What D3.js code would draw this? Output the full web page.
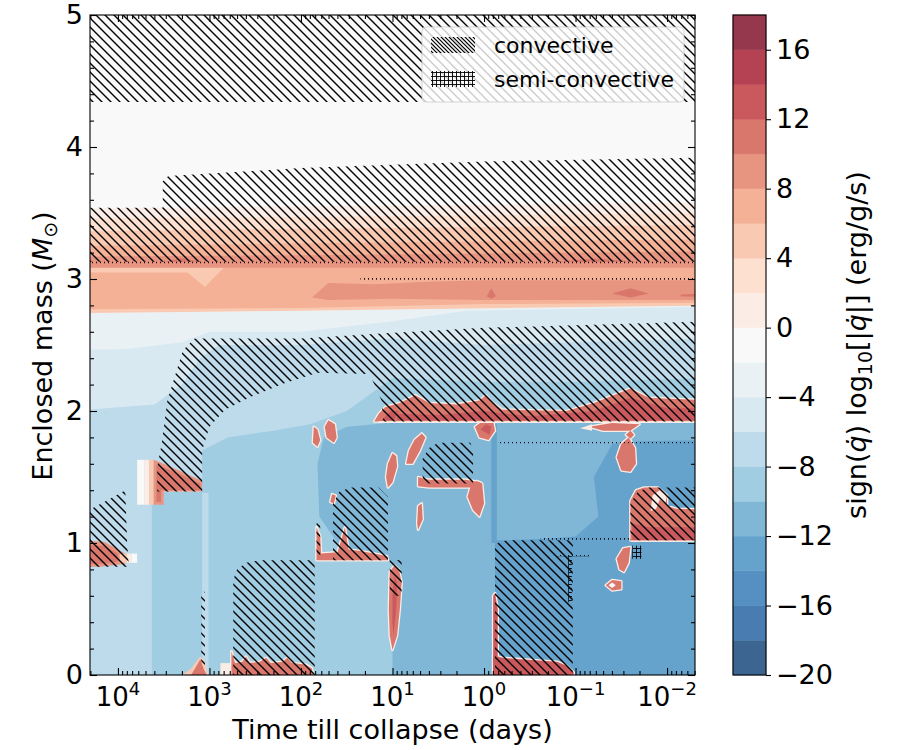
<!DOCTYPE html>
<html>
<head>
<meta charset="utf-8">
<script src="https://cdn.jsdelivr.net/npm/d3@7"></script>
<style>
  body { margin: 0; background: #fff; }
  text { font-family: "DejaVu Sans", sans-serif; fill: #000; }
</style>
</head>
<body>
<svg id="chart" width="900" height="750"></svg>
<script>
// contour edges of sign(q) log10|q|
const levels = d3.range(-20, 20, 2);
const massTicks = [0, 1, 2, 3, 4, 5];
const timeTicks = [1e4, 1e3, 1e2, 1e1, 1, 1e-1, 1e-2];
const timeTickExp = ["4", "3", "2", "1", "0", "\u22121", "\u22122"];
const cbarTicks = [-20, -16, -12, -8, -4, 0, 4, 8, 12, 16];

// left / right ends beyond the axis range, in log10(days)
const L = 4.5, R = -2.5;

// [lower level edge, outline as [log10(days), mass]]
const backgroundBands = [
  [-2, [[L, 0], [L, 5.1], [R, 5.1], [R, 0]]],
  [-4, [[L, 0], [L, 2.74], [2.0, 2.76], [R, 2.80], [R, 0]]],
  [-6, [[L, 0], [L, 2.46], [3.9, 2.47], [3.3, 2.52], [3.0, 2.6], [2.0, 2.6], [1.0, 2.68], [0.2, 2.76], [R, 2.79], [R, 0]]],
  [-8, [[L, 0], [L, 2.0], [3.6, 2.05], [3.3, 2.2], [3.1, 2.4], [2.9, 2.5], [2.0, 2.5], [1.0, 2.55], [0.0, 2.5], [-1.0, 2.52], [R, 2.55], [R, 0]]],
  [-10, [[3.63, 0], [3.63, 1.3], [3.5, 1.3], [3.5, 1.39], [3.08, 1.39], [3.08, 1.7], [2.8, 1.8], [2.3, 1.85], [1.9, 1.9], [1.5, 2.0], [1.2, 2.15], [1.0, 2.25], [0.0, 2.22], [-1.0, 2.22], [R, 2.25], [R, 0]]],
  [-8, [[3.08, 0], [3.08, 1.38], [3.01, 1.38], [3.01, 0]]],
  [-12, [[1.0, 0], [1.0, 0.85], [1.3, 0.9], [1.6, 1.0], [1.8, 1.2], [1.82, 1.6], [1.75, 1.8], [1.5, 1.88], [1.2, 1.9], [0.9, 1.92], [R, 1.92], [R, 0]]],
  [-14, [[-0.12, 0], [-0.12, 1.02], [-0.6, 1.03], [-1.0, 1.05], [-1.25, 1.2], [-1.2, 1.5], [-1.4, 1.75], [-1.7, 1.77], [R, 1.78], [R, 0]]],
  [-14, [[-0.08, 1.0], [-0.08, 1.9], [-0.14, 1.9], [-0.14, 1.0]]],
  // shell burning layer below the envelope
  [4, [[L, 3.11], [R, 3.11], [R, 2.80], [2.0, 2.76], [L, 2.74]]],
  [6, [[L, 3.10], [R, 3.10], [R, 2.82], [0.0, 2.81], [2.0, 2.78], [L, 2.77]]],
  [4, [[L, 3.095], [2.83, 3.095], [3.05, 2.94], [3.24, 3.05], [L, 3.05]]],
  [8, [[1.88, 2.86], [1.7, 2.97], [1.2, 2.96], [0.6, 2.98], [0.0, 2.99], [-1.0, 2.99], [R, 2.99], [R, 2.84], [0.0, 2.84], [1.0, 2.85], [1.7, 2.84]]],
  [10, [[-1.4, 2.89], [-1.6, 2.93], [-1.8, 2.89], [-1.6, 2.86]]],
  [10, [[-0.03, 2.87], [-0.08, 2.93], [-0.13, 2.87], [-0.08, 2.85]]],
  [10, [[-2.15, 2.88], [R, 2.9], [R, 2.86], [-2.15, 2.87]]],
  // convective envelope
  [0, [[L, 3.53], [3.51, 3.54], [2.0, 3.55], [R, 3.58], [R, 3.1], [L, 3.1]]],
  [2, [[L, 3.46], [2.0, 3.47], [R, 3.5], [R, 3.1], [L, 3.1]]],
  [4, [[L, 3.36], [2.0, 3.38], [R, 3.41], [R, 3.1], [L, 3.1]]],
  [6, [[L, 3.25], [2.0, 3.27], [R, 3.3], [R, 3.1], [L, 3.1]]],
  [8, [[L, 3.17], [2.0, 3.18], [R, 3.21], [R, 3.085], [L, 3.085]]],
  [10, [[3.5, 3.13], [3.3, 3.16], [3.1, 3.13]]],
  [10, [[-0.8, 3.13], [-1.2, 3.155], [-1.7, 3.13]]]
];

// burning episodes: [lower level edge, outline]
const burningPatches = [
  [8, [[L, 0.82], [L, 1.02], [4.15, 1.01], [4.0, 0.95], [3.92, 0.92], [3.92, 0.84], [4.2, 0.82]]],
  [10, [[L, 0.84], [L, 0.99], [4.15, 0.98], [4.0, 0.92], [4.0, 0.86], [4.2, 0.84]]],
  [4, [[3.98, 0.85], [3.98, 0.92], [3.9, 0.92], [3.9, 0.85]]],
  [0, [[3.9, 0.85], [3.9, 0.92], [3.85, 0.92], [3.85, 0.85]]],
  [-2, [[3.85, 0.85], [3.85, 0.92], [3.79, 0.92], [3.79, 0.85]]],
  [-2, [[3.79, 1.29], [3.79, 1.63], [3.71, 1.63], [3.71, 1.29]]],
  [0, [[3.71, 1.29], [3.71, 1.63], [3.66, 1.63], [3.66, 1.29]]],
  [4, [[3.66, 1.29], [3.66, 1.63], [3.61, 1.63], [3.61, 1.29]]],
  [8, [[3.61, 1.29], [3.61, 1.63], [3.5, 1.6], [3.3, 1.54], [3.08, 1.47], [3.08, 1.39], [3.5, 1.39], [3.5, 1.29]]],
  [10, [[3.58, 1.31], [3.58, 1.59], [3.35, 1.53], [3.1, 1.45], [3.1, 1.4], [3.53, 1.4], [3.53, 1.31]]],
  [4, [[3.3, 0], [3.2, 0.05], [3.1, 0.14], [3.05, 0.1], [3.02, 0]]],
  [10, [[3.2, 0], [3.1, 0.12], [3.06, 0.04], [3.03, 0]]],
  [0, [[2.88, 0], [2.88, 0.09], [2.76, 0.09], [2.76, 0]]],
  [10, [[2.76, 0], [2.76, 0.18], [2.72, 0.09], [2.64, 0.1], [2.6, 0.14], [2.56, 0.09], [2.45, 0.1], [2.38, 0.13], [2.33, 0.09], [2.2, 0.1], [2.15, 0.13], [2.1, 0.09], [1.95, 0.08], [1.88, 0.05], [1.87, 0]]],
  [10, [[1.83, 0.87], [1.83, 1.12], [1.79, 1.05], [1.78, 0.92], [1.6, 0.93], [1.52, 1.12], [1.48, 0.95], [1.35, 0.94], [1.2, 0.92], [1.06, 0.9], [1.05, 0.87]]],
  [10, [[1.86, 1.88], [1.82, 1.86], [1.79, 1.78], [1.82, 1.73], [1.87, 1.76]]],
  [10, [[1.7, 1.93], [1.63, 1.9], [1.61, 1.8], [1.64, 1.76], [1.72, 1.8], [1.74, 1.88]]],
  [10, [[1.64, 1.3], [1.62, 1.36], [1.66, 1.37], [1.68, 1.31]]],
  [10, [[1.05, 1.42], [1.0, 1.46], [0.95, 1.58], [0.96, 1.66], [1.0, 1.68], [1.05, 1.6], [1.07, 1.5]]],
  [10, [[1.0, 0.19], [0.95, 0.3], [0.92, 0.5], [0.9, 0.7], [0.93, 0.8], [0.98, 0.83], [1.03, 0.78], [1.04, 0.5], [1.03, 0.3]]],
  [12, [[0.99, 0.3], [0.96, 0.5], [0.95, 0.7], [0.98, 0.75], [1.0, 0.6], [1.0, 0.4]]],
  [10, [[0.85, 1.6], [0.82, 1.7], [0.76, 1.78], [0.68, 1.83], [0.64, 1.8], [0.7, 1.7], [0.78, 1.6]]],
  [10, [[0.72, 1.1], [0.67, 1.18], [0.68, 1.3], [0.72, 1.28], [0.73, 1.15]]],
  [10, [[0.72, 1.43], [0.72, 1.5], [0.6, 1.48], [0.2, 1.48], [0.04, 1.46], [0.04, 1.42], [0.6, 1.42]]],
  [10, [[0.15, 1.42], [0.08, 1.47], [0.02, 1.45], [0.0, 1.3], [0.05, 1.2], [0.12, 1.25], [0.18, 1.35]]],
  [10, [[0.1, 1.88], [0.02, 1.92], [-0.1, 1.92], [-0.12, 1.85], [-0.05, 1.78], [0.05, 1.8]]],
  [12, [[0.04, 1.86], [-0.02, 1.9], [-0.08, 1.88], [-0.06, 1.82]]],
  // layer under the outer convective shell
  [10, [[1.2, 1.92], [1.15, 1.98], [1.08, 2.03], [0.92, 2.06], [0.75, 2.12], [0.6, 2.06], [0.3, 2.05], [0.05, 2.08], [-0.02, 2.12], [-0.08, 2.07], [-0.2, 2.01], [-0.9, 2.0], [-1.2, 2.06], [-1.6, 2.17], [-1.8, 2.1], [-2.1, 2.09], [R, 2.08], [R, 1.92]]],
  [12, [[0.95, 1.93], [0.95, 1.98], [0.5, 1.97], [0.0, 2.0], [-0.5, 1.96], [-1.2, 2.0], [-1.6, 2.1], [-2.0, 2.02], [R, 2.02], [R, 1.93]]],
  [12, [[1.12, 1.93], [1.02, 2.0], [0.93, 2.0], [0.98, 1.93]]],
  [0, [[1.15, 1.91], [R, 1.91], [R, 1.922], [1.15, 1.922]]],
  [10, [[-1.15, 1.88], [-1.4, 1.91], [-1.7, 1.9], [-1.6, 1.85], [-1.3, 1.85]]],
  [0, [[-1.05, 1.87], [-1.18, 1.9], [-1.18, 1.85]]],
  [10, [[-1.5, 1.55], [-1.45, 1.65], [-1.5, 1.75], [-1.58, 1.8], [-1.65, 1.72], [-1.66, 1.6], [-1.6, 1.54]]],
  [10, [[-1.55, 1.82], [-1.6, 1.85], [-1.64, 1.82], [-1.6, 1.79]]],
  [10, [[-1.48, 0.8], [-1.45, 0.88], [-1.52, 0.96], [-1.6, 0.97], [-1.58, 0.85], [-1.53, 0.78]]],
  [10, [[-1.33, 0.68], [-1.4, 0.72], [-1.5, 0.71], [-1.5, 0.65], [-1.4, 0.64]]],
  [-2, [[-1.36, 0.68], [-1.4, 0.7], [-1.44, 0.68], [-1.4, 0.66]]],
  [12, [[-0.1, 0], [-0.1, 0.6], [-0.12, 0.62], [-0.15, 0.5], [-0.15, 0]]],
  [12, [[-0.1, 0], [-0.1, 0.15], [-0.2, 0.13], [-0.4, 0.12], [-0.6, 0.11], [-0.8, 0.1], [-0.9, 0.07], [-0.98, 0.02], [-0.98, 0]]],
  [10, [[-1.6, 1.02], [-1.6, 1.32], [-1.66, 1.4], [-1.75, 1.42], [-1.9, 1.42], [-2.0, 1.36], [-2.0, 1.28], [-2.1, 1.26], [R, 1.25], [R, 1.02]]],
  [12, [[-1.62, 1.02], [-1.62, 1.15], [-1.8, 1.12], [R, 1.12], [R, 1.02]]],
  [0, [[-1.82, 1.24], [-1.84, 1.36], [-1.92, 1.4], [-2.0, 1.36], [-1.98, 1.3], [-1.92, 1.33], [-1.88, 1.26]]]
];

// convective zones, outlines as [log10(days), mass]
const convectiveZones = [
  [[L, 4.34], [L, 5.1], [R, 5.1], [R, 4.34]],
  [[L, 3.13], [L, 3.54], [3.51, 3.54], [3.51, 3.74], [3.45, 3.78], [2.0, 3.84], [0.0, 3.89], [R, 3.92], [R, 3.13]],
  [[3.57, 1.39], [3.57, 1.58], [3.52, 1.76], [3.46, 2.08], [3.29, 2.46], [3.16, 2.55], [2.0, 2.55], [1.03, 2.59], [0.0, 2.63], [R, 2.68], [R, 1.92], [1.1, 1.92], [1.12, 2.08], [1.25, 2.28], [1.82, 2.29], [2.18, 2.21], [2.54, 2.11], [2.83, 2.01], [3.0, 1.88], [3.08, 1.7], [3.08, 1.39]],
  [[L, 0.82], [L, 1.18], [4.1, 1.33], [3.92, 1.4], [3.9, 1.0], [3.88, 0.82]],
  [[2.74, 0], [2.74, 0.72], [2.7, 0.8], [2.6, 0.85], [2.45, 0.87], [1.85, 0.87], [1.85, 0]],
  [[1.65, 0.87], [1.65, 1.3], [1.58, 1.39], [1.45, 1.42], [1.15, 1.42], [1.05, 1.35], [1.05, 0.87]],
  [[0.67, 1.45], [0.67, 1.64], [0.6, 1.72], [0.5, 1.76], [0.15, 1.76], [0.12, 1.7], [0.12, 1.45]],
  [[-0.12, 0], [-0.12, 0.96], [-0.15, 1.0], [-0.25, 1.02], [-0.97, 1.02], [-0.97, 0]],
  [[-1.6, 1.02], [-1.6, 1.3], [-1.68, 1.39], [-1.8, 1.42], [R, 1.42], [R, 1.02]],
  [[3.09, 0.05], [3.09, 0.63], [3.05, 0.63], [3.05, 0.05]],
  [[1.83, 0.9], [1.83, 1.15], [1.79, 1.15], [1.79, 0.9]],
  [[1.03, 0.6], [1.03, 0.87], [0.9, 0.87], [0.9, 0.6]]
];

// semi-convective zones
const semiZones = [
  [[L, 3.12], [R, 3.12], [R, 3.13], [L, 3.13]],
  [[1.35, 2.995], [R, 2.995], [R, 3.008], [1.35, 3.008]],
  [[-0.17, 1.755], [R, 1.755], [R, 1.765], [-0.17, 1.765]],
  [[-0.62, 1.025], [-1.6, 1.025], [-1.6, 1.038], [-0.62, 1.038]],
  [[-0.8, 0.9], [-1.15, 0.9], [-1.15, 0.91], [-0.8, 0.91]],
  [[-0.92, 0.55], [-0.92, 0.9], [-0.96, 0.9], [-0.96, 0.55]],
  [[-1.62, 0.88], [-1.62, 0.98], [-1.72, 0.98], [-1.72, 0.88]]
];

// colorbrewer RdBu, interpolated linearly like matplotlib does
const rdbu = d3.piecewise(d3.interpolateRgb, [
  "#67001f", "#b2182b", "#d6604d", "#f4a582", "#fddbc7", "#f7f7f7",
  "#d1e5f0", "#92c5de", "#4393c3", "#2166ac", "#053061"
]);

const svg = d3.select("#chart");
const plot = { left: 90, right: 695, top: 15, bottom: 675 };
const cbar = { left: 733, right: 766 };

const x = d3.scaleLog().domain([2.02e4, 4.95e-3]).range([plot.left, plot.right]);
const y = d3.scaleLinear().domain([0, 5]).range([plot.bottom, plot.top]);
const cy = d3.scaleLinear()
  .domain([levels[0], levels[levels.length - 1]])
  .range([plot.bottom, plot.top]);

// RdBu_r at the band midpoint, alpha 0.8 on white
const bandColor = (lo) => {
  const t = (lo + 1 - levels[0]) / (levels[levels.length - 1] - levels[0]);
  return d3.interpolateRgb("#ffffff", rdbu(1 - t))(0.8);
};

const outline = d3.line()
  .x((d) => x(Math.pow(10, d[0])))
  .y((d) => y(d[1]))
  .curve(d3.curveLinearClosed);

// defs: clip + hatches
const defs = svg.append("defs");
defs.append("clipPath").attr("id", "plotClip")
  .append("rect")
  .attr("x", plot.left).attr("y", plot.top)
  .attr("width", plot.right - plot.left).attr("height", plot.bottom - plot.top);

const hatch = (id, s, w) => {
  defs.append("pattern").attr("id", id)
    .attr("patternUnits", "userSpaceOnUse")
    .attr("width", s).attr("height", s)
    .append("path")
    .attr("d", `M0,0L${s},${s}M${-s / 4},${s * 3 / 4}L${s / 4},${s * 5 / 4}M${s * 3 / 4},${-s / 4}L${s * 5 / 4},${s / 4}`)
    .attr("stroke", "#000").attr("stroke-width", w).attr("fill", "none");
};
hatch("hatch", 9, 1.4);
hatch("hatchLegend", 4, 1.2);

defs.append("pattern").attr("id", "grid")
  .attr("patternUnits", "userSpaceOnUse")
  .attr("width", 4).attr("height", 4)
  .append("path")
  .attr("d", "M0,0.5H4M0.5,0V4")
  .attr("stroke", "#000").attr("stroke-width", 0.9).attr("fill", "none");

const graph = svg.append("g").attr("clip-path", "url(#plotClip)");

graph.append("g").selectAll("path")
  .data(backgroundBands)
  .join("path")
  .attr("d", (d) => outline(d[1]))
  .attr("fill", (d) => bandColor(d[0]));

// light rims where the contours jump from blue to red
graph.append("g").selectAll("path")
  .data(burningPatches.filter((d) => d[0] >= 10))
  .join("path")
  .attr("d", (d) => outline(d[1]))
  .attr("fill", "none")
  .attr("stroke", bandColor(0))
  .attr("stroke-width", 2.6)
  .attr("stroke-linejoin", "round");

graph.append("g").selectAll("path")
  .data(burningPatches)
  .join("path")
  .attr("d", (d) => outline(d[1]))
  .attr("fill", (d) => bandColor(d[0]));

graph.append("g").selectAll("path")
  .data(convectiveZones)
  .join("path")
  .attr("d", outline)
  .attr("fill", "url(#hatch)");

graph.append("g").selectAll("path")
  .data(semiZones)
  .join("path")
  .attr("d", outline)
  .attr("fill", "url(#grid)");

// legend
const legend = svg.append("g");
legend.append("rect")
  .attr("x", 422).attr("y", 27).attr("width", 262).attr("height", 75)
  .attr("rx", 4)
  .attr("fill", "#fff").attr("fill-opacity", 0.8)
  .attr("stroke", "#cccccc").attr("stroke-opacity", 0.8);
const legendItems = [
  { name: "convective", fill: "url(#hatchLegend)" },
  { name: "semi-convective", fill: "url(#grid)" }
];
legendItems.forEach((d, i) => {
  legend.append("rect")
    .attr("x", 431).attr("y", 37 + i * 34).attr("width", 44).attr("height", 16)
    .attr("fill", d.fill);
  legend.append("text")
    .attr("x", 494).attr("y", 53 + i * 34)
    .attr("font-size", 22)
    .text(d.name);
});

// axes (ticks inward on all four sides)
const timeMinor = [];
for (let e = -3; e <= 4; e++) {
  for (let k = 2; k <= 9; k++) {
    const v = k * Math.pow(10, e);
    if (v < x.domain()[0] && v > x.domain()[1]) timeMinor.push(v);
  }
}
const massMinor = d3.range(0, 5.001, 0.2).filter((v) => Math.abs(v - Math.round(v)) > 1e-6);

const axisGroup = (axis, tx, ty) =>
  svg.append("g")
    .attr("transform", `translate(${tx},${ty})`)
    .call(axis)
    .call((g) => g.select(".domain").remove())
    .call((g) => g.selectAll(".tick line").attr("stroke-width", 1.1));

axisGroup(d3.axisBottom(x).tickValues(timeTicks).tickSize(-7).tickFormat(() => ""), 0, plot.bottom);
axisGroup(d3.axisBottom(x).tickValues(timeMinor).tickSize(-4).tickFormat(() => ""), 0, plot.bottom);
axisGroup(d3.axisTop(x).tickValues(timeTicks).tickSize(-7).tickFormat(() => ""), 0, plot.top);
axisGroup(d3.axisTop(x).tickValues(timeMinor).tickSize(-4).tickFormat(() => ""), 0, plot.top);
axisGroup(d3.axisRight(y).tickValues(massTicks).tickSize(-7).tickFormat(() => ""), plot.right, 0);
axisGroup(d3.axisRight(y).tickValues(massMinor).tickSize(-4).tickFormat(() => ""), plot.right, 0);
axisGroup(d3.axisLeft(y).tickValues(massMinor).tickSize(-4).tickFormat(() => ""), plot.left, 0);
axisGroup(d3.axisLeft(y).tickValues(massTicks).tickSize(-7).tickPadding(7).tickFormat(d3.format("d")), plot.left, 0)
  .call((g) => g.selectAll("text").attr("font-size", 27).attr("font-family", "DejaVu Sans").attr("fill", "#000"));

// 10^n labels
const xLabels = svg.append("g");
timeTicks.forEach((v, i) => {
  const t = xLabels.append("text")
    .attr("x", x(v)).attr("y", 706)
    .attr("text-anchor", "middle")
    .attr("font-size", 26);
  t.append("tspan").text("10");
  t.append("tspan").attr("font-size", 18).attr("dy", -11).text(timeTickExp[i]);
});

svg.append("rect")
  .attr("x", plot.left).attr("y", plot.top)
  .attr("width", plot.right - plot.left).attr("height", plot.bottom - plot.top)
  .attr("fill", "none").attr("stroke", "#000").attr("stroke-width", 1.1);

svg.append("text")
  .attr("x", (plot.left + plot.right) / 2).attr("y", 739)
  .attr("text-anchor", "middle").attr("font-size", 27)
  .text("Time till collapse (days)");

const yTitle = svg.append("text")
  .attr("transform", "translate(52,346) rotate(-90)")
  .attr("text-anchor", "middle").attr("font-size", 27);
yTitle.append("tspan").text("Enclosed mass (");
yTitle.append("tspan").attr("font-style", "italic").text("M");
yTitle.append("tspan").attr("font-size", 19).attr("dy", 5).text("\u2299");
yTitle.append("tspan").attr("dy", -5).text(")");

// colorbar
const bar = svg.append("g");
bar.selectAll("rect")
  .data(levels.slice(0, -1))
  .join("rect")
  .attr("x", cbar.left).attr("width", cbar.right - cbar.left)
  .attr("y", (d) => cy(d + 2)).attr("height", (d) => cy(d) - cy(d + 2))
  .attr("fill", (d) => bandColor(d))
  .attr("stroke", (d) => bandColor(d)).attr("stroke-width", 0.5);
bar.append("rect")
  .attr("x", cbar.left).attr("y", plot.top)
  .attr("width", cbar.right - cbar.left).attr("height", plot.bottom - plot.top)
  .attr("fill", "none").attr("stroke", "#000").attr("stroke-width", 1.1);
svg.append("g")
  .attr("transform", `translate(${cbar.right},0)`)
  .call(d3.axisRight(cy).tickValues(cbarTicks).tickSize(5).tickPadding(5)
    .tickFormat((d) => (d < 0 ? "\u2212" + Math.abs(d) : String(d))))
  .call((g) => g.select(".domain").remove())
  .call((g) => g.selectAll(".tick line").attr("stroke-width", 1.1))
  .call((g) => g.selectAll("text").attr("font-size", 27).attr("font-family", "DejaVu Sans").attr("fill", "#000"));

const cTitle = svg.append("text")
  .attr("transform", "translate(866,345) rotate(-90)")
  .attr("text-anchor", "middle").attr("font-size", 27);
cTitle.append("tspan").text("sign(");
cTitle.append("tspan").attr("font-style", "italic").text("q\u0307");
cTitle.append("tspan").text(") log");
cTitle.append("tspan").attr("font-size", 19).attr("dy", 6).text("10");
cTitle.append("tspan").attr("dy", -6).text("[|");
cTitle.append("tspan").attr("font-style", "italic").text("q\u0307");
cTitle.append("tspan").text("|] (erg/g/s)");
</script>
</body>
</html>
